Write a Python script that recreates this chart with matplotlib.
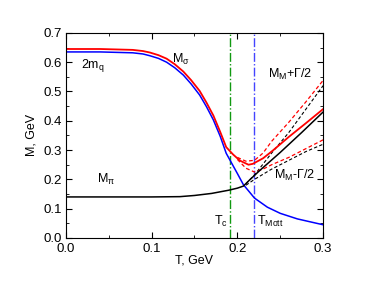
import matplotlib
matplotlib.use("Agg")
import matplotlib.pyplot as plt
from matplotlib.ticker import MultipleLocator

plt.rcParams['font.family'] = ['Liberation Sans', 'DejaVu Sans']
plt.rcParams['mathtext.fontset'] = 'custom'
plt.rcParams['mathtext.rm'] = 'Liberation Sans'
plt.rcParams['mathtext.it'] = 'Liberation Sans'

# quark mass 2m_q
T_q = [0, 0.04, 0.078, 0.09, 0.098, 0.108, 0.1175, 0.127, 0.137, 0.146, 0.156, 0.164, 0.172, 0.18, 0.187, 0.2, 0.207, 0.22, 0.235, 0.25, 0.27, 0.3]
M_q = [0.635, 0.635, 0.632, 0.628, 0.622, 0.613, 0.6, 0.581, 0.556, 0.526, 0.488, 0.448, 0.403, 0.347, 0.289, 0.22, 0.182, 0.136, 0.105, 0.084, 0.065, 0.045]

# sigma mass
T_s = [0, 0.04, 0.078, 0.09, 0.098, 0.108, 0.1175, 0.127, 0.137, 0.146, 0.156, 0.164, 0.172, 0.18, 0.187, 0.195, 0.203, 0.213, 0.218, 0.23, 0.242, 0.26, 0.28, 0.3]
M_s = [0.645, 0.645, 0.642, 0.638, 0.633, 0.624, 0.612, 0.593, 0.568, 0.539, 0.502, 0.462, 0.418, 0.362, 0.31, 0.285, 0.264, 0.25, 0.253, 0.272, 0.30, 0.345, 0.392, 0.44]

# pion mass
T_p = [0, 0.05, 0.1, 0.133, 0.15, 0.17, 0.19, 0.2, 0.207, 0.215, 0.226, 0.25, 0.275, 0.3]
M_p = [0.14, 0.14, 0.14, 0.141, 0.145, 0.152, 0.163, 0.17, 0.177, 0.2, 0.23, 0.292, 0.36, 0.43]

# sigma M +- Gamma/2
T_sw = [0.2, 0.21, 0.22, 0.23, 0.24, 0.26, 0.28, 0.3]
M_s_up = [0.275, 0.262, 0.265, 0.29, 0.33, 0.395, 0.465, 0.538]
M_s_lo = [0.268, 0.238, 0.225, 0.235, 0.25, 0.275, 0.305, 0.335]

# pion M +- Gamma/2
T_pw = [0.21, 0.22, 0.24, 0.26, 0.28, 0.3]
M_p_up = [0.185, 0.215, 0.29, 0.36, 0.44, 0.52]
M_p_lo = [0.18, 0.2, 0.235, 0.265, 0.295, 0.32]

T_c = 0.191
T_mott = 0.2195

fig = plt.figure(figsize=(3.74, 2.86), dpi=100)
ax = fig.add_axes([0.176, 0.168, 0.688, 0.717])

ax.axvline(T_c, color='#119911', lw=1.0, ls='-.')
ax.axvline(T_mott, color='#4444ff', lw=1.0, ls='-.')

ax.plot(T_pw, M_p_up, color='black', lw=0.8, ls=(0, (3, 2)))
ax.plot(T_pw, M_p_lo, color='black', lw=0.8, ls=(0, (3, 2)))
ax.plot(T_sw, M_s_up, color='red', lw=0.9, ls=(0, (3, 2)))
ax.plot(T_sw, M_s_lo, color='red', lw=0.9, ls=(0, (3, 2)))

ax.plot(T_q, M_q, color='blue', lw=1.1)
ax.plot(T_s, M_s, color='red', lw=1.3)
ax.plot(T_p, M_p, color='black', lw=1.1)

ax.set_xlim(0, 0.3)
ax.set_ylim(0, 0.7)
ax.xaxis.set_major_locator(MultipleLocator(0.1))
ax.xaxis.set_minor_locator(MultipleLocator(0.05))
ax.yaxis.set_major_locator(MultipleLocator(0.1))
ax.yaxis.set_minor_locator(MultipleLocator(0.05))
ax.tick_params(which='both', direction='in', top=True, right=True, labelsize=9.5)
ax.tick_params(axis='x', pad=3.5)
ax.tick_params(axis='y', pad=3)
ax.tick_params(which='major', length=4)
ax.tick_params(which='minor', length=2)
ax.set_xticklabels([f"{v:.1f}" for v in ax.get_xticks()])
ax.set_yticklabels([f"{v:.1f}" for v in ax.get_yticks()])
ax.set_xlabel('T, GeV', fontsize=9, labelpad=0)
ax.set_ylabel('M, GeV', fontsize=9, labelpad=4)

fs = 9
ax.text(0.018, 0.582, r'2m$_\mathregular{q}$', fontsize=fs)
ax.text(0.124, 0.597, r'M$_\sigma$', fontsize=fs)
ax.text(0.036, 0.188, r'M$_\pi$', fontsize=fs)
ax.text(0.173, 0.045, r'T$_\mathregular{c}$', fontsize=fs)
ax.text(0.223, 0.045, r'T$_\mathregular{Mott}$', fontsize=fs)
ax.text(0.236, 0.545, r'M$_\mathregular{M}$+$\Gamma$/2', fontsize=fs)
ax.text(0.243, 0.2, r'M$_\mathregular{M}$-$\Gamma$/2', fontsize=fs)

fig.savefig('out.png', dpi=100)
